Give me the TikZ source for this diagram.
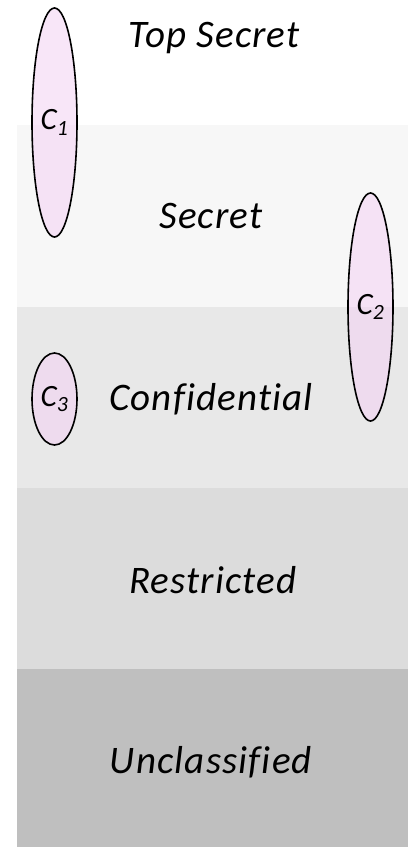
\documentclass[tikz,border=0pt]{standalone}
\usepackage{fontspec}
\setmainfont{Carlito}[Ligatures=NoCommon]
\usetikzlibrary{shapes.geometric}
\definecolor{bandA}{HTML}{F7F7F7}
\definecolor{bandB}{HTML}{E8E8E8}
\definecolor{bandC}{HTML}{DCDCDC}
\definecolor{bandD}{HTML}{BFBFBF}
\definecolor{cpink}{HTML}{F4D2F4}
\tikzset{
  band/.style={draw=none},
  level/.style={font=\fontsize{39}{41}\selectfont\itshape\addfontfeature{LetterSpace=3}, inner sep=0pt, anchor=base},
  compart/.style={ellipse, draw=black, line width=1.6pt, fill=cpink, fill opacity=0.55, text opacity=1, inner sep=0pt, minimum width=45pt, font=\fontsize{31}{33}\selectfont\itshape}
}
\begin{document}
\begin{tikzpicture}[x=1pt,y=-1pt]
\useasboundingbox (0,0) rectangle (408,847);
\fill[white] (0,0) rectangle (408,847);
\fill[bandA,band] (17,125) rectangle (408,307);
\fill[bandB,band] (17,307) rectangle (408,488);
\fill[bandC,band] (17,488) rectangle (408,669);
\fill[bandD,band] (17,669) rectangle (408,847);
\node[level] (ts) at (214,47) {Top Secret};
\node[level] (s) at (211,228) {Secret};
\node[level] (c) at (211,410) {Confidential};
\node[level] (r) at (213,593) {Restricted};
\node[level] (u) at (211,773) {Unclassified};
\node[compart, minimum height=229pt] (c1) at (54.5,122.5) {C\textsubscript{1}};
\node[compart, minimum height=228pt] (c2) at (370.5,307) {C\textsubscript{2}};
\node[compart, minimum height=92pt] (c3) at (54.5,399) {C\textsubscript{3}};
\end{tikzpicture}
\end{document}
